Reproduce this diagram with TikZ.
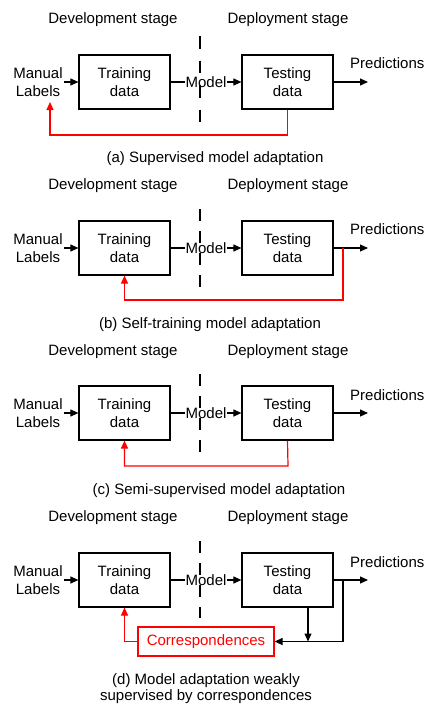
\documentclass[tikz,border=0pt]{standalone}
\usepackage{fontspec}
\setmainfont{Liberation Sans}
\usetikzlibrary{arrows.meta}
\begin{document}
\begin{tikzpicture}[x=1pt,y=-1pt,font=\fontsize{15}{18}\selectfont,
  box/.style={draw,line width=1.2pt,minimum width=91pt,minimum height=54pt,align=center,inner sep=0pt},
  lbl/.style={align=center,inner sep=1pt},
  arr/.style={line width=1.1pt,-{Triangle[length=8pt,width=7pt]}},
  ln/.style={line width=1.1pt},
  redarr/.style={red,line width=1.2pt,-{Triangle[length=8pt,width=7pt]}},
  divider/.style={line width=2.2pt,dash pattern=on 12pt off 10pt},
  title/.style={inner sep=0pt},
  corrbox/.style={draw=red,text=red,line width=1.2pt,minimum width=136pt,minimum height=29pt,inner sep=0pt},
]
\clip (0,0) rectangle (424,704);
% ---------- (a)
\node[title] (a-dev) at (113,20) {Development stage};
\node[title] (a-dep) at (288,20) {Deployment stage};
\node[box] (a-train) at (124.5,82) {Training\\data};
\node[box] (a-test) at (287.5,82) {Testing\\data};
\node[lbl] (a-ml) at (38,82) {Manual\\Labels};
\node[lbl,inner sep=0.5pt] (a-model) at (206,82) {Model};
\node[lbl,anchor=west] (a-pred) at (349,63) {Predictions};
\coordinate (a-pend) at (368,82);
\coordinate (a-d1) at (200,36);
\coordinate (a-d2) at (200,122);
\draw[divider,dash pattern=on 12.5pt off 12pt] (a-d1) -- (a-d2);
\draw[arr] (a-ml) -- (a-train);
\draw[ln] (a-train) -- (a-model);
\draw[arr] (a-model) -- (a-test);
\draw[arr] (a-test) -- (a-pend);
\coordinate (a-ret) at (50,135);
\coordinate (a-mlb) at (50,102);
\draw[redarr] (a-test.south) |- (a-ret) -- (a-mlb);
\node[title] (a-cap) at (215,159) {(a) Supervised model adaptation};
% ---------- (b)
\node[title] (b-dev) at (113,186) {Development stage};
\node[title] (b-dep) at (288,186) {Deployment stage};
\node[box] (b-train) at (124.5,248) {Training\\data};
\node[box] (b-test) at (287.5,248) {Testing\\data};
\node[lbl] (b-ml) at (38,248) {Manual\\Labels};
\node[lbl,inner sep=0.5pt] (b-model) at (206,248) {Model};
\node[lbl,anchor=west] (b-pred) at (349,229) {Predictions};
\coordinate (b-pend) at (368,248);
\coordinate (b-d1) at (200,209);
\coordinate (b-d2) at (200,287);
\draw[divider] (b-d1) -- (b-d2);
\draw[arr] (b-ml) -- (b-train);
\draw[ln] (b-train) -- (b-model);
\draw[arr] (b-model) -- (b-test);
\draw[arr] (b-test) -- (b-pend);
\coordinate (b-br) at (343,248);
\coordinate (b-ret) at (343,300);
\draw[redarr] (b-br) -- (b-ret) -| (b-train.south);
\node[title] (b-cap) at (210,325) {(b) Self-training model adaptation};
% ---------- (c)
\node[title] (c-dev) at (113,352) {Development stage};
\node[title] (c-dep) at (288,352) {Deployment stage};
\node[box] (c-train) at (124.5,413) {Training\\data};
\node[box] (c-test) at (287.5,413) {Testing\\data};
\node[lbl] (c-ml) at (38,413) {Manual\\Labels};
\node[lbl,inner sep=0.5pt] (c-model) at (206,413) {Model};
\node[lbl,anchor=west] (c-pred) at (349,395) {Predictions};
\coordinate (c-pend) at (368,413);
\coordinate (c-d1) at (200,374);
\coordinate (c-d2) at (200,452);
\draw[divider] (c-d1) -- (c-d2);
\draw[arr] (c-ml) -- (c-train);
\draw[ln] (c-train) -- (c-model);
\draw[arr] (c-model) -- (c-test);
\draw[arr] (c-test) -- (c-pend);
\coordinate (c-ret) at (288,466);
\draw[redarr] (c-test.south) -- (c-ret) -| (c-train.south);
\node[title] (c-cap) at (219,491) {(c) Semi-supervised model adaptation};
% ---------- (d)
\node[title] (d-dev) at (113,518) {Development stage};
\node[title] (d-dep) at (288,518) {Deployment stage};
\node[box] (d-train) at (124.5,580) {Training\\data};
\node[box] (d-test) at (287.5,580) {Testing\\data};
\node[lbl] (d-ml) at (38,580) {Manual\\Labels};
\node[lbl,inner sep=0.5pt] (d-model) at (206,580) {Model};
\node[lbl,anchor=west] (d-pred) at (349,562) {Predictions};
\coordinate (d-pend) at (368,580);
\coordinate (d-d1) at (200,541);
\coordinate (d-d2) at (200,618);
\draw[divider] (d-d1) -- (d-d2);
\draw[arr] (d-ml) -- (d-train);
\draw[ln] (d-train) -- (d-model);
\draw[arr] (d-model) -- (d-test);
\draw[arr] (d-test) -- (d-pend);
\node[corrbox] (d-corr) at (206,641.5) {Correspondences};
\coordinate (d-j) at (308,641.5);
\draw[arr] (d-test.south -| d-j) -- (d-j);
\coordinate (d-br) at (343,580);
\draw[arr] (d-br) |- (d-corr.east);
\draw[redarr] (d-corr.west) -| (d-train.south);
\node[title,anchor=base] (d-cap1) at (206,684.5) {(d) Model adaptation weakly};
\node[title,anchor=base] (d-cap2) at (206,700.5) {supervised by correspondences};
\end{tikzpicture}
\end{document}
